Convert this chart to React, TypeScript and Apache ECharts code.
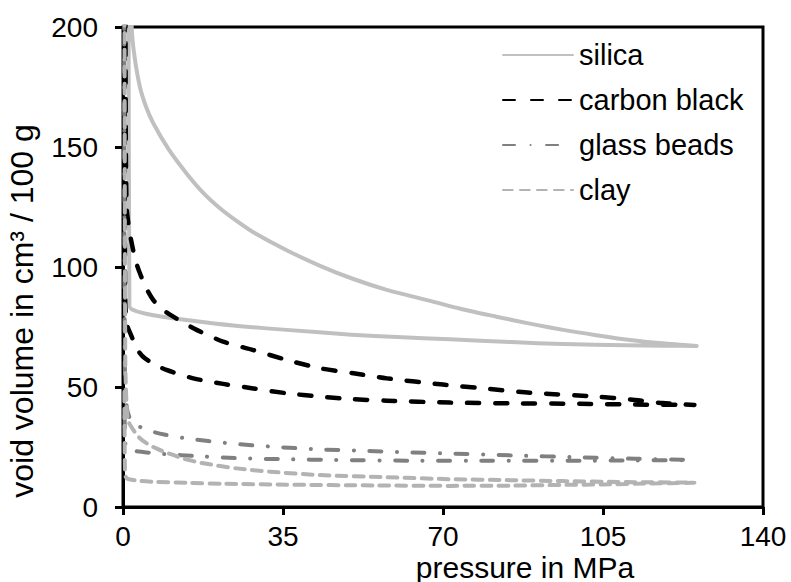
import React, { useEffect, useRef } from "react";
import * as echarts from "echarts";

const seriesNames = ["silica", "carbon black", "glass beads", "clay"];
const xTicks = [0, 35, 70, 105, 140];
const yTicks = [0, 50, 100, 150, 200];

// [pressure MPa, void volume cm³/100 g]
const silicaLoad = [
  [1.6, 240], [1.9, 200], [2.5, 188], [3.7, 175], [5, 167], [6.6, 160], [10, 149],
  [13.9, 139], [17.5, 131], [21.2, 124.5], [25, 119], [28.5, 114.5], [35.8, 107],
  [43.1, 100.5], [50.4, 95], [57.7, 90.5], [67, 86], [74, 82.5], [81.7, 79.3],
  [89, 76.4], [96.3, 73.8], [103.5, 71.6], [110.9, 69.6], [118, 68.2], [125.5, 67.1],
];
const silicaUnload = [
  [118, 67.2], [110, 67.4], [96.3, 67.9], [85, 68.7], [71.5, 69.9], [60, 70.8],
  [50, 71.8], [35.8, 73.8], [27, 75.1], [20, 76.5], [13.9, 77.9], [9, 79.2],
  [5, 80.5], [1.9, 82.4], [1.4, 84], [1.2, 240],
];
const carbonLoad = [
  [0.5, 240], [0.6, 160], [0.8, 125], [1.4, 115], [1.9, 110], [2.7, 103],
  [3.7, 97.4], [5, 91.5], [6.6, 86.3], [8.5, 82.5], [11, 79.3], [16.1, 73.8],
  [21.9, 68.9], [28.5, 65.4], [35.8, 61.3], [43.1, 57.8], [50.4, 55.7],
  [57.7, 53.6], [70, 51], [80, 49.2], [89, 47.6], [103.6, 46], [111, 44.8],
  [118, 43.3], [125, 42.5],
];
const carbonUnload = [
  [112, 42.7], [100, 43], [85, 43.2], [71.5, 43.5], [57.7, 44.3], [50.4, 44.9],
  [43.1, 46], [35.8, 47.4], [28.5, 49.4], [21.9, 51.3], [15.4, 53.6], [9.5, 57.1],
  [6.5, 59.8], [4.4, 62.6], [3, 66], [1.9, 71], [0.8, 76.5], [0.45, 90], [0.35, 240],
];
const glassLoad = [
  [0.25, 240], [0.4, 60], [0.8, 42], [1.5, 37], [3, 34.2], [5.2, 32.1],
  [9, 30.2], [13.9, 28.6], [23.4, 26.5], [32.9, 25.1], [43.1, 24], [51.8, 23.5],
  [62, 22.8], [71.5, 22.3], [85, 21.5], [100, 20.7], [112, 20.1], [124, 19.6],
];
const glassUnload = [
  [112, 19.4], [100, 19.3], [80, 19.3], [65, 19.3], [46, 19.6], [35.8, 19.9],
  [25.6, 20.3], [15.4, 21.3], [10, 21.9], [5.9, 22.6], [3, 23.2], [1.5, 23.8],
  [0.6, 25], [0.35, 40],
];
const clayLoad = [
  [0.3, 240], [0.5, 60], [0.8, 41.8], [1.1, 36], [2.3, 32], [3.5, 29], [5.2, 26.5],
  [7.5, 24.2], [10.3, 22.1], [13.5, 20], [17.6, 18.2], [24.9, 16.1], [32.2, 14.7],
  [43.1, 13.3], [57.7, 12.4], [71.5, 11.6], [84, 11.2], [96, 10.8], [110, 10.4],
  [125, 10.1],
];
const clayUnload = [
  [115, 9.8], [105, 9.4], [96, 9.2], [85, 8.9], [71.5, 8.8], [55, 9], [35.8, 9.3],
  [22, 9.7], [13.9, 10.1], [7, 10.5], [3, 11], [0.8, 12], [0.45, 14], [0.3, 50],
];

const colors = ["#c0c0c0", "#000000", "#808080", "#b3b3b3"];
const FONT = "'Liberation Sans', Arial, sans-serif";

export default function App() {
  const ref = useRef<HTMLDivElement>(null);
  useEffect(() => {
    if (!ref.current) return;
    const chart = echarts.init(ref.current, undefined, { renderer: "svg" });
    const mk = (i: number, data: number[][], type: any, width: number, cap: any) => ({
      name: seriesNames[i],
      type: "line",
      data,
      symbol: "none",
      clip: true,
      smooth: 0.25,
      lineStyle: { color: colors[i], width, type, cap, join: "round" },
      itemStyle: { color: colors[i] },
      z: 2 + i,
    });
    chart.setOption({
      animation: false,
      backgroundColor: "#ffffff",
      textStyle: { fontFamily: FONT },
      grid: {
        left: 123,
        right: 28,
        top: 27,
        bottom: 75,
        show: true,
        borderColor: "#000",
        borderWidth: 3,
        containLabel: false,
      },
      legend: {
        orient: "vertical",
        left: 502,
        top: 40,
        padding: 0,
        itemWidth: 70,
        itemHeight: 14,
        itemGap: 15,
        itemStyle: { opacity: 0 },
        data: seriesNames,
        textStyle: { fontFamily: FONT, fontSize: 29, color: "#000", lineHeight: 30, padding: [0, 0, 0, 1] },
      },
      xAxis: {
        type: "value",
        min: xTicks[0],
        max: xTicks[xTicks.length - 1],
        interval: 35,
        axisLine: { show: true, onZero: false, lineStyle: { color: "#000", width: 3 } },
        axisTick: { show: true, inside: false, length: 8, lineStyle: { color: "#000", width: 3 } },
        splitLine: { show: false },
        axisLabel: { margin: 15, fontSize: 28, lineHeight: 28, color: "#000", fontFamily: FONT },
      },
      yAxis: {
        type: "value",
        min: yTicks[0],
        max: yTicks[yTicks.length - 1],
        interval: 50,
        axisLine: { show: true, onZero: false, lineStyle: { color: "#000", width: 3 } },
        axisTick: { show: true, inside: false, length: 8, lineStyle: { color: "#000", width: 3 } },
        splitLine: { show: false },
        axisLabel: { margin: 25, fontSize: 28, color: "#000", fontFamily: FONT },
      },
      graphic: [
        {
          type: "text",
          x: 525,
          y: 567,
          style: {
            text: "pressure in MPa",
            fontSize: 30,
            lineHeight: 30,
            fontFamily: FONT,
            fill: "#000",
            align: "center",
            verticalAlign: "middle",
          },
        },
        {
          type: "text",
          x: 22,
          y: 311,
          rotation: Math.PI / 2,
          style: {
            text: "void volume in cm³ / 100 g",
            fontSize: 32,
            fontFamily: FONT,
            fill: "#000",
            align: "center",
            verticalAlign: "middle",
          },
        },
      ],
      series: [
        mk(0, [...silicaLoad, ...silicaUnload], "solid", 4, "round"),
        mk(1, [...carbonLoad, ...carbonUnload], [12, 16], 4.5, "round"),
        mk(2, [...glassLoad, ...glassUnload], [12, 15.5, 0.1, 15.5], 4, "round"),
        mk(3, [...clayLoad, ...clayUnload], [9.7, 7.3], 4, "round"),
      ],
    });
    return () => chart.dispose();
  }, []);
  return <div ref={ref} style={{ width: 791, height: 582, position: "absolute", left: 0, top: 0 }} />;
}
